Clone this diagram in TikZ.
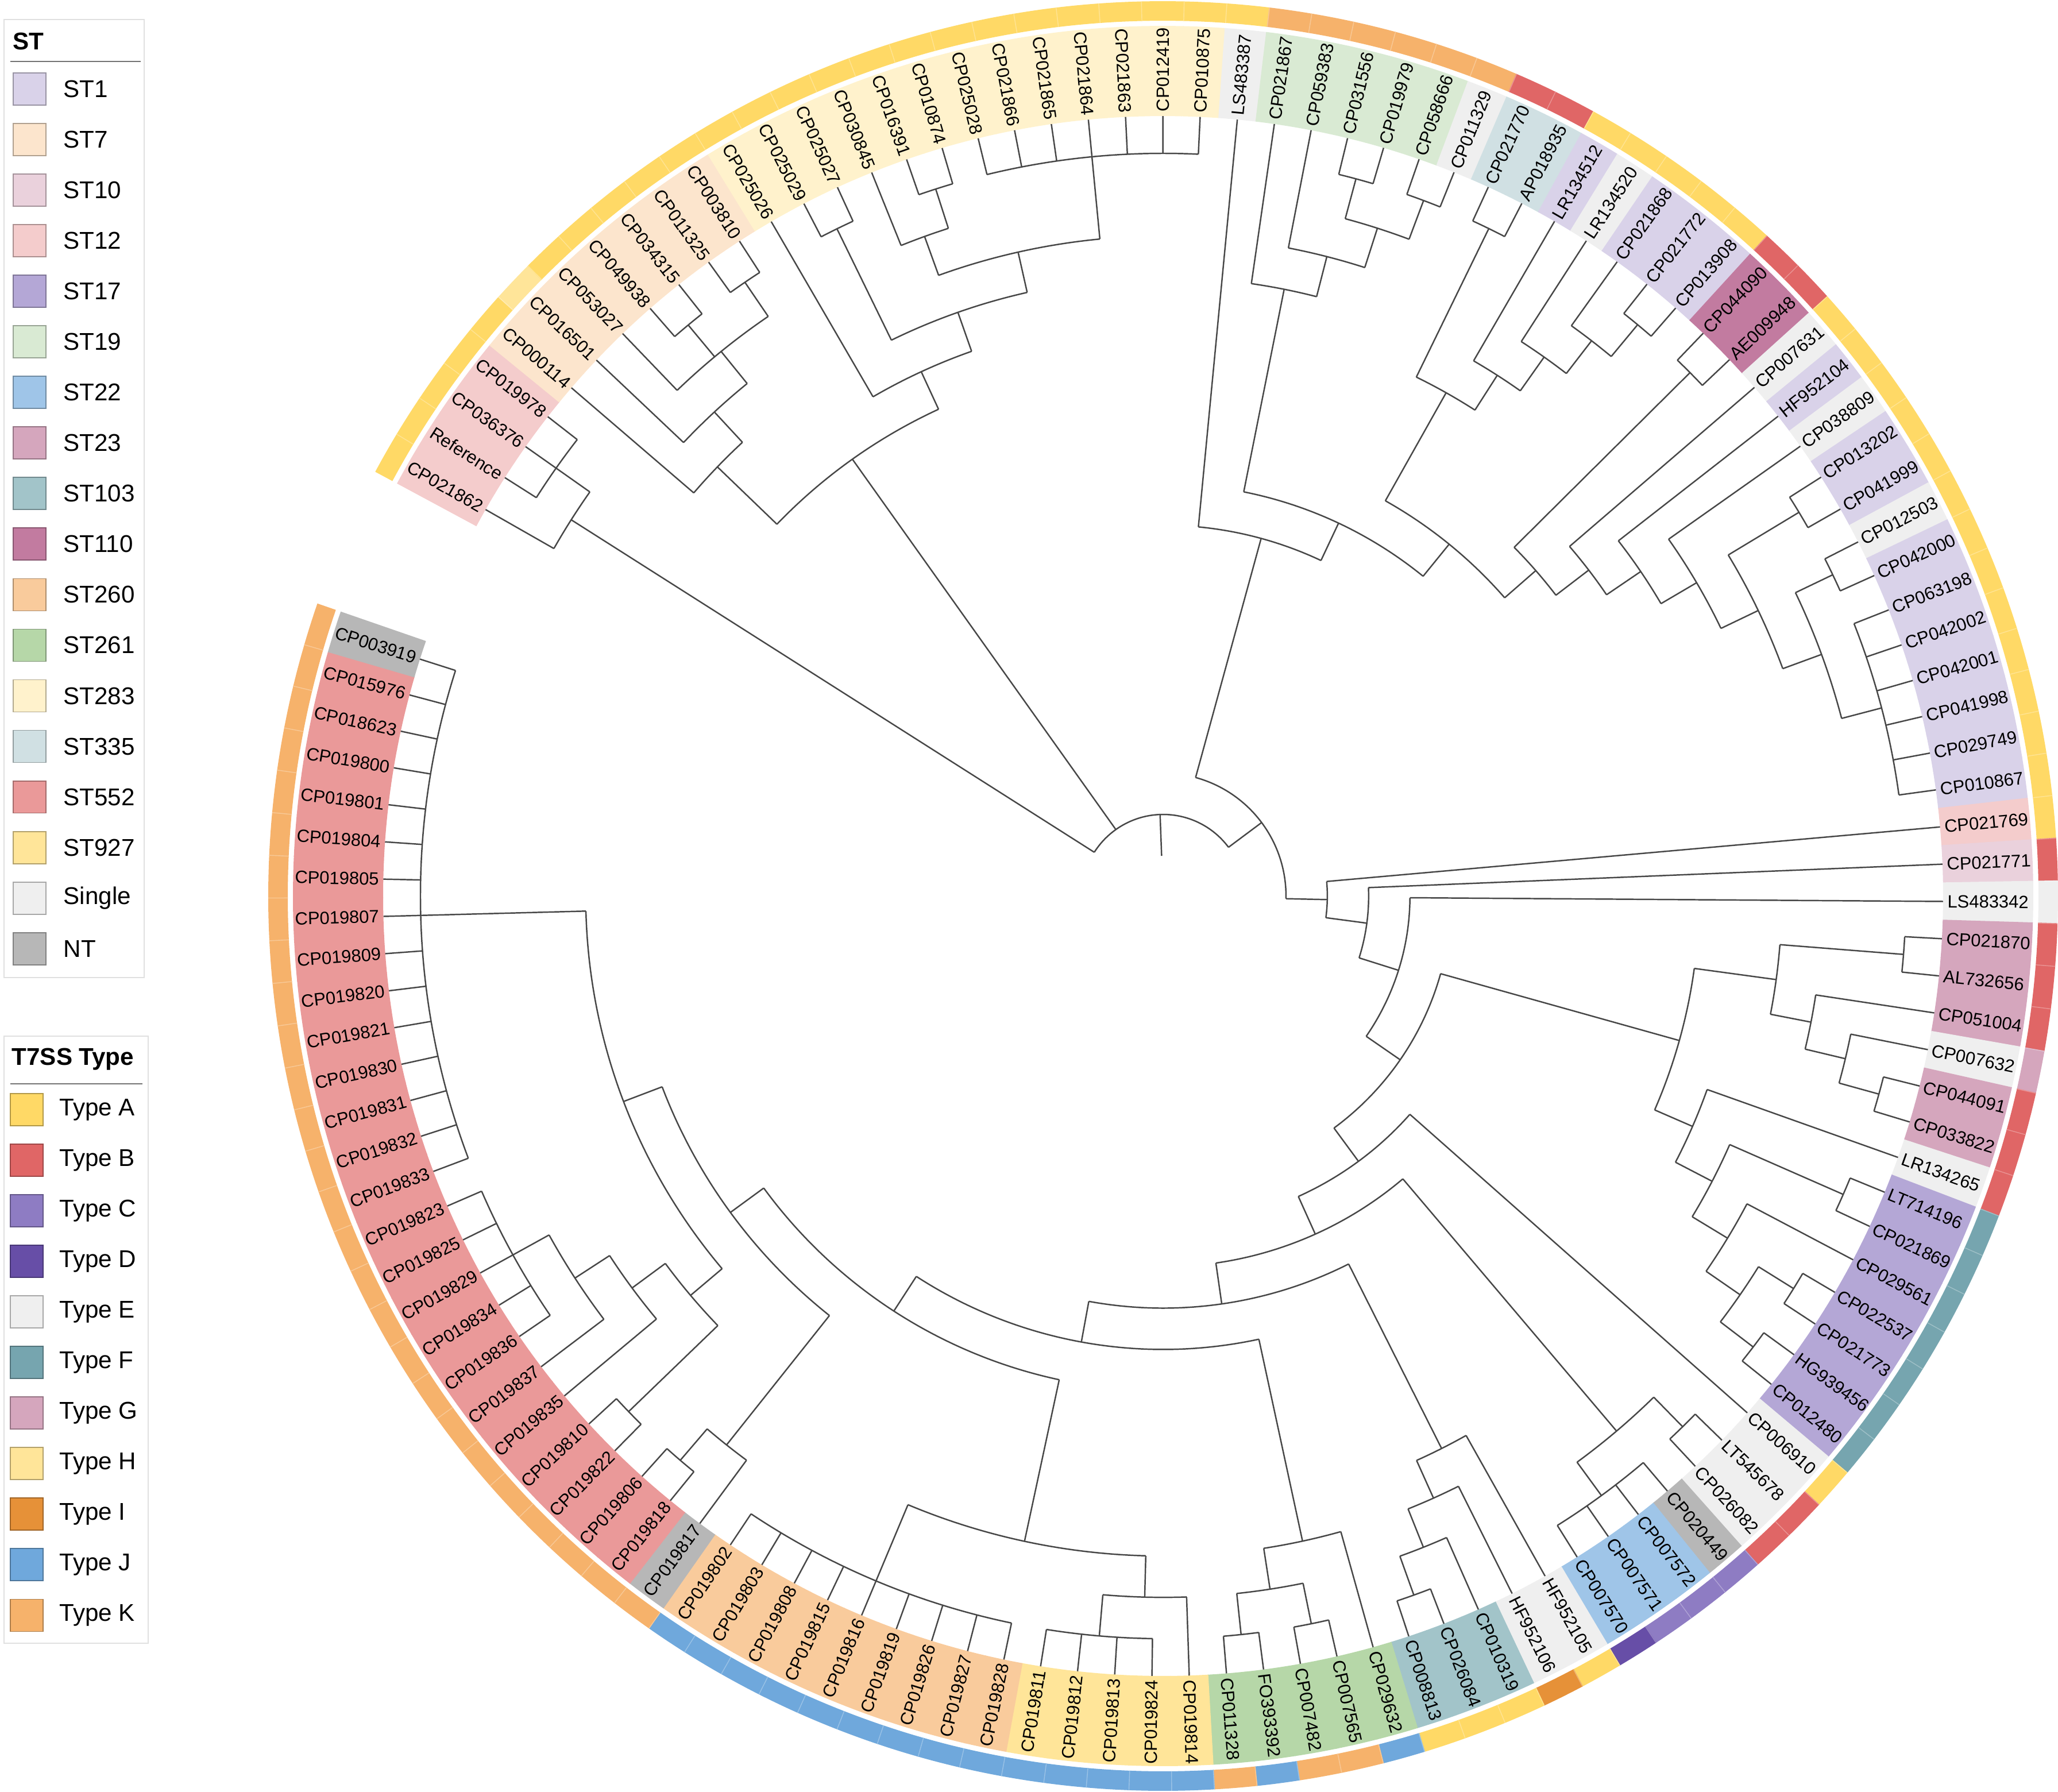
\documentclass[tikz,border=0pt]{standalone}
\usepackage{fontspec}
\setmainfont{Liberation Sans}
\definecolor{st1}{HTML}{D9D2E9}
\definecolor{st7}{HTML}{FCE5CD}
\definecolor{st10}{HTML}{EAD1DC}
\definecolor{st12}{HTML}{F4CCCC}
\definecolor{st17}{HTML}{B4A7D6}
\definecolor{st19}{HTML}{D9EAD3}
\definecolor{st22}{HTML}{9FC5E8}
\definecolor{st23}{HTML}{D5A6BD}
\definecolor{st103}{HTML}{A2C4C9}
\definecolor{st110}{HTML}{C27BA0}
\definecolor{st260}{HTML}{F9CB9C}
\definecolor{st261}{HTML}{B6D7A8}
\definecolor{st283}{HTML}{FFF2CC}
\definecolor{st335}{HTML}{D0E0E3}
\definecolor{st552}{HTML}{EA9999}
\definecolor{st927}{HTML}{FFE599}
\definecolor{single}{HTML}{EFEFEF}
\definecolor{nt}{HTML}{B7B7B7}
\definecolor{tA}{HTML}{FFD966}
\definecolor{tB}{HTML}{E06666}
\definecolor{tC}{HTML}{8E7CC3}
\definecolor{tD}{HTML}{674EA7}
\definecolor{tE}{HTML}{EFEFEF}
\definecolor{tF}{HTML}{76A5AF}
\definecolor{tG}{HTML}{D5A6BD}
\definecolor{tH}{HTML}{FFE599}
\definecolor{tI}{HTML}{E69138}
\definecolor{tJ}{HTML}{6FA8DC}
\definecolor{tK}{HTML}{F6B26B}
\tikzset{
 treeline/.style={draw=black!72, line width=0.7pt},
 lbl/.style={font=\fontsize{8.8}{10}\selectfont, inner sep=0pt},
 legtxt/.style={font=\fontsize{12}{14}\selectfont, anchor=west, inner sep=0pt},
 legtitle/.style={font=\bfseries\fontsize{12}{14}\selectfont, anchor=west, inner sep=0pt},
 legsw/.style={line width=0.5pt},
}
\newcommand\tzclade[2]{%
  \gdef\tzfirst{}\gdef\tzhmax{0}%
  \foreach \tzc in {#2}{%
    \ifx\tzfirst\empty\xdef\tzfirst{\tzc}\fi
    \xdef\tzlast{\tzc}%
    \pgfmathsetmacro\tzt{max(\tzhmax,\csname th@\tzc\endcsname)}%
    \xdef\tzhmax{\tzt}%
  }%
  \pgfmathsetmacro\tzh{\tzhmax+1}%
  \pgfmathsetmacro\tzr{13.65-0.7194*\tzh}%
  \edef\tzA{\csname ta@\tzfirst\endcsname}%
  \edef\tzB{\csname ta@\tzlast\endcsname}%
  \pgfmathsetmacro\tzm{(\tzA+\tzB)/2}%
  \draw[treeline] (\tzA:\tzr) arc[start angle=\tzA, end angle=\tzB, radius=\tzr];
  \foreach \tzc in {#2}{%
    \edef\tza{\csname ta@\tzc\endcsname}%
    \edef\tzhh{\csname th@\tzc\endcsname}%
    \pgfmathsetmacro\tzcr{\tzhh==0 ? 13.58 : 13.65-0.7194*\tzhh}%
    \draw[treeline] (\tza:\tzr) -- (\tza:\tzcr);
  }%
  \expandafter\xdef\csname ta@#1\endcsname{\tzm}%
  \expandafter\xdef\csname th@#1\endcsname{\tzh}%
}
\begin{document}
\begin{tikzpicture}
\useasboundingbox (-20.25,-15.59) rectangle (15.58,15.60);
% leaf angles
\foreach \i in {1,...,128}{%
  \pgfmathsetmacro\tmpa{150.3-(\i-1)*2.74}%
  \expandafter\xdef\csname ta@L\i\endcsname{\tmpa}%
  \expandafter\xdef\csname th@L\i\endcsname{0}%
}
% ST label backgrounds
\foreach \c [count=\i] in {st12,st12,st12,st12,st7,st7,st7,st7,st7,st7,
st7,st283,st283,st283,st283,st283,st283,st283,st283,st283,
st283,st283,st283,st283,single,st19,st19,st19,st19,st19,
single,st335,st335,st1,single,st1,st1,st1,st110,st110,
single,st1,single,st1,st1,single,st1,st1,st1,st1,
st1,st1,st1,st12,st10,single,st23,st23,st23,single,
st23,st23,single,st17,st17,st17,st17,st17,st17,st17,
single,single,single,nt,st22,st22,st22,single,single,st103,
st103,st103,st261,st261,st261,st261,st261,st927,st927,st927,
st927,st927,st260,st260,st260,st260,st260,st260,st260,st260,
st260,nt,st552,st552,st552,st552,st552,st552,st552,st552,
st552,st552,st552,st552,st552,st552,st552,st552,st552,st552,
st552,st552,st552,st552,st552,st552,st552,nt}{%
  \pgfmathsetmacro\a{150.3-(\i-1)*2.74}%
  \fill[\c] (\a+1.4:13.58) arc[start angle=\a+1.4, end angle=\a-1.4, radius=13.58]
     -- (\a-1.4:15.15) arc[start angle=\a-1.4, end angle=\a+1.4, radius=15.15] -- cycle;
}
% T7SS ring
\foreach \c [count=\i] in {tA,tA,tA,tA,tA,tH,tA,tA,tA,tA,
tA,tA,tA,tA,tA,tA,tA,tA,tA,tA,
tA,tA,tA,tA,tA,tK,tK,tK,tK,tK,
tK,tB,tB,tA,tA,tA,tA,tA,tB,tB,
tA,tA,tA,tA,tA,tA,tA,tA,tA,tA,
tA,tA,tA,tA,tB,tE,tB,tB,tB,tG,
tB,tB,tB,tF,tF,tF,tF,tF,tF,tF,
tA,tB,tB,tC,tC,tC,tD,tA,tI,tA,
tA,tA,tJ,tK,tK,tJ,tK,tJ,tJ,tJ,
tJ,tJ,tJ,tJ,tJ,tJ,tJ,tJ,tJ,tJ,
tJ,tK,tK,tK,tK,tK,tK,tK,tK,tK,
tK,tK,tK,tK,tK,tK,tK,tK,tK,tK,
tK,tK,tK,tK,tK,tK,tK,tK}{%
  \pgfmathsetmacro\a{150.3-(\i-1)*2.74}%
  \fill[\c] (\a+1.4:15.24) arc[start angle=\a+1.4, end angle=\a-1.4, radius=15.24]
     -- (\a-1.4:15.58) arc[start angle=\a-1.4, end angle=\a+1.4, radius=15.58] -- cycle;
}
\foreach \i in {2,...,128}{%
  \pgfmathsetmacro\a{150.3-(\i-1)*2.74+1.37}%
  \draw[white, opacity=0.3, line width=0.4pt] (\a:15.24) -- (\a:15.58);
}
% labels
\foreach \nm [count=\i] in {CP021862,Reference,CP036376,CP019978,CP000114,CP016501,CP053027,CP049938,CP034315,CP011325,
CP003810,CP025026,CP025029,CP025027,CP030845,CP016391,CP010874,CP025028,CP021866,CP021865,
CP021864,CP021863,CP012419,CP010875,LS483387,CP021867,CP059383,CP031556,CP019979,CP058666,
CP011329,CP021770,AP018935,LR134512,LR134520,CP021868,CP021772,CP013908,CP044090,AE009948,
CP007631,HF952104,CP038809,CP013202,CP041999,CP012503,CP042000,CP063198,CP042002,CP042001,
CP041998,CP029749,CP010867,CP021769,CP021771,LS483342,CP021870,AL732656,CP051004,CP007632,
CP044091,CP033822,LR134265,LT714196,CP021869,CP029561,CP022537,CP021773,HG939456,CP012480,
CP006910,LT545678,CP026082,CP020449,CP007572,CP007571,CP007570,HF952105,HF952106,CP010319,
CP026084,CP008813,CP029632,CP007565,CP007482,FO393392,CP011328,CP019814,CP019824,CP019813,
CP019812,CP019811,CP019828,CP019827,CP019826,CP019819,CP019816,CP019815,CP019808,CP019803,
CP019802,CP019817,CP019818,CP019806,CP019822,CP019810,CP019835,CP019837,CP019836,CP019834,
CP019829,CP019825,CP019823,CP019833,CP019832,CP019831,CP019830,CP019821,CP019820,CP019809,
CP019807,CP019805,CP019804,CP019801,CP019800,CP018623,CP015976,CP003919}{%
  \pgfmathsetmacro\a{150.3-(\i-1)*2.74}%
  \pgfmathtruncatemacro\isright{(\a>-90 && \a<90.5) ? 1 : 0}%
  \ifnum\isright=1
    \node[lbl, rotate=\a, anchor=west] (lab\i) at (\a:13.65) {\nm};
  \else
    \node[lbl, rotate=\a+180, anchor=east] (lab\i) at (\a:13.65) {\nm};
  \fi
}
% tree
\tzclade{N2}{L2,L3,L4}
\tzclade{N1}{L1,N2}
\tzclade{N8}{L8,L9}
\tzclade{N10}{L10,L11}
\tzclade{N7}{L7,N8,N10}
\tzclade{N6}{L6,N7}
\tzclade{N5}{L5,N6}
\tzclade{N13}{L13,L14}
\tzclade{N16}{L16,L17}
\tzclade{N15}{L15,N16}
\tzclade{N18}{L18,L19,L20,L21,L22,L23,L24}
\tzclade{N15b}{N15,N18}
\tzclade{N13b}{N13,N15b}
\tzclade{N12}{L12,N13b}
\tzclade{N5b}{N5,N12}
\tzclade{N28}{L28,L29}
\tzclade{N30}{L30,L31}
\tzclade{Ya}{N28,N30}
\tzclade{Xa}{L27,Ya}
\tzclade{Ca}{L26,Xa}
\tzclade{N32}{L32,L33}
\tzclade{N37}{L37,L38}
\tzclade{Ha}{L36,N37}
\tzclade{Ia}{L35,Ha}
\tzclade{Ja}{L34,Ia}
\tzclade{Ka}{N32,Ja}
\tzclade{N39}{L39,L40}
\tzclade{N44}{L44,L45}
\tzclade{N46}{L46,L47}
\tzclade{P48}{L48,L49,L50,L51,L52,L53}
\tzclade{Ea}{N46,P48}
\tzclade{Fa}{N44,Ea}
\tzclade{Ga}{L43,Fa}
\tzclade{Ta}{L42,Ga}
\tzclade{Sa}{L41,Ta}
\tzclade{Ma}{N39,Sa}
\tzclade{LLa}{Ka,Ma}
\tzclade{N9}{Ca,LLa}
\tzclade{Ba}{L25,N9}
\tzclade{N57}{L57,L58}
\tzclade{N61}{L61,L62}
\tzclade{AC}{L60,N61}
\tzclade{AB}{L59,AC}
\tzclade{AA}{N57,AB}
\tzclade{N64}{L64,L65}
\tzclade{N67}{L67,L68}
\tzclade{N69}{L69,L70}
\tzclade{AH}{N67,N69}
\tzclade{AG}{L66,AH}
\tzclade{AF}{N64,AG}
\tzclade{AE}{L63,AF}
\tzclade{AD}{AA,AE}
\tzclade{N72}{L72,L73}
\tzclade{P74}{L74,L75,L76,L77}
\tzclade{X3}{N72,P74}
\tzclade{N81}{L81,L82}
\tzclade{X11}{L80,N81}
\tzclade{X10}{L79,X11}
\tzclade{X8}{L78,X10}
\tzclade{N84}{L84,L85}
\tzclade{N86}{L86,L87}
\tzclade{X15}{N84,N86}
\tzclade{X13}{L83,X15}
\tzclade{P89}{L89,L90,L91,L92}
\tzclade{Y1}{L88,P89}
\tzclade{P93}{L93,L94,L95,L96,L97,L98,L99,L100,L101}
\tzclade{Y2}{Y1,P93}
\tzclade{N103}{L103,L104}
\tzclade{Y5}{L102,N103}
\tzclade{N105}{L105,L106}
\tzclade{P109}{L109,L110,L111,L112,L113}
\tzclade{Z1}{P109,L108}
\tzclade{Z2}{Z1,L107}
\tzclade{Q2}{Z2,N105}
\tzclade{P114}{L114,L115,L116,L117,L118,L119,L120,L121,L122,L123,L124,L125,L126,L127,L128}
\tzclade{Q1}{Q2,P114}
\tzclade{Y4}{Y5,Q1}
\tzclade{X14}{Y2,Y4}
\tzclade{X9}{X13,X14}
\tzclade{X4}{X8,X9}
\tzclade{X2}{X3,X4}
\tzclade{W2}{L71,X2}
\tzclade{Wa}{AD,W2}
\tzclade{Va}{L56,Wa}
\tzclade{Ua}{L55,Va}
\tzclade{Rest}{L54,Ua}
\tzclade{N25}{Ba,Rest}
\tzclade{Root}{N1,N5b,N25}
\edef\ra{\csname ta@Root\endcsname}
\draw[treeline] (\ra:1.42) -- (\ra:0.70);
% legends
\begin{scope}[shift={(-20.25,15.60)}, x=0.01cm, y=-0.01cm]
\draw[black!12, line width=0.6pt] (7,34) rectangle (251,1703);
\node[legtitle] (lt1) at (22,72) {ST};
\draw[black!55, line width=0.6pt] (18,107) -- (245,107);
\foreach \t/\c [count=\i] in {ST1/st1,ST7/st7,ST10/st10,ST12/st12,ST17/st17,ST19/st19,ST22/st22,ST23/st23,ST103/st103,ST110/st110,ST260/st260,ST261/st261,ST283/st283,ST335/st335,ST552/st552,ST927/st927,Single/single,NT/nt}{%
  \pgfmathsetmacro\yy{155+(\i-1)*88.1}%
  \filldraw[legsw, fill=\c, draw=\c!70!black] (23,\yy-28) rectangle (80,\yy+28);
  \node[legtxt] (ls\i) at (110,\yy) {\t};
}
\draw[black!12, line width=0.6pt] (7,1805) rectangle (258,2863);
\node[legtitle] (lt2) at (20,1845) {T7SS Type};
\draw[black!55, line width=0.6pt] (18,1888) -- (248,1888);
\foreach \t/\c [count=\i] in {Type A/tA,Type B/tB,Type C/tC,Type D/tD,Type E/tE,Type F/tF,Type G/tG,Type H/tH,Type I/tI,Type J/tJ,Type K/tK}{%
  \pgfmathsetmacro\yy{1933+(\i-1)*88.1}%
  \filldraw[legsw, fill=\c, draw=\c!70!black] (18,\yy-28) rectangle (75,\yy+28);
  \node[legtxt] (lk\i) at (103,\yy) {\t};
}
\end{scope}
\end{tikzpicture}
\end{document}
